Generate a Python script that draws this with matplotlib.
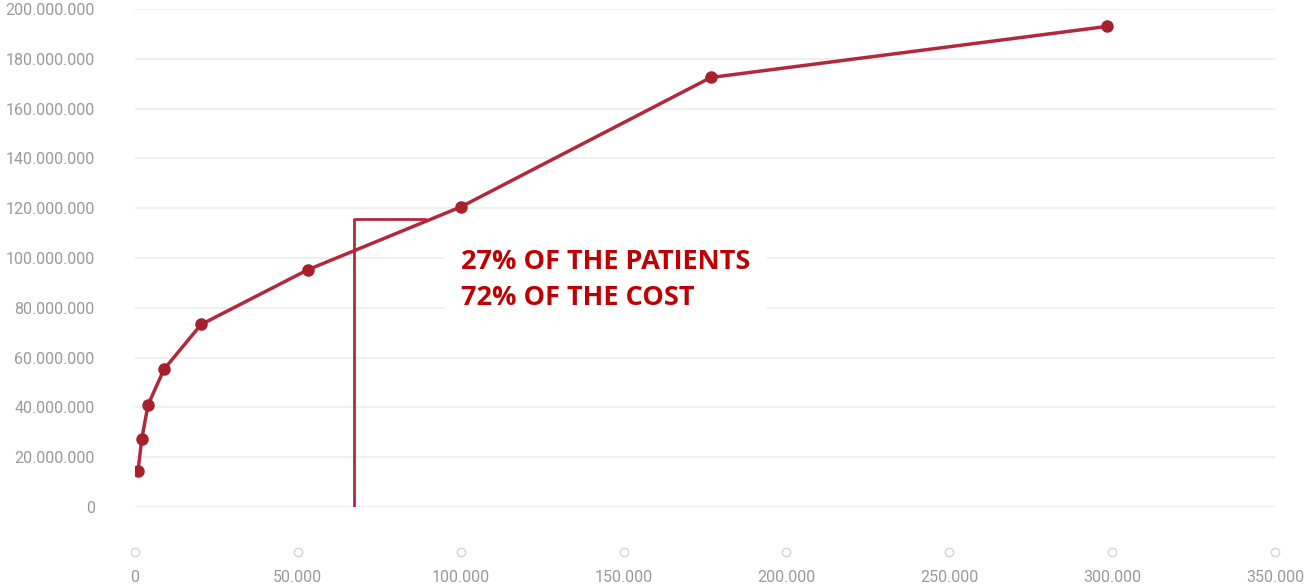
import numpy as np
import matplotlib.pyplot as plt
import matplotlib.transforms as mtransforms
from matplotlib.ticker import FuncFormatter

# cumulative patients vs cumulative cost
patients = [900, 2100, 4000, 8900, 20300, 53100, 100000, 176800, 298400]
cost = [14.3e6, 27.5e6, 41.0e6, 55.3e6, 73.3e6, 95.3e6, 120.5e6, 172.5e6, 193.0e6]

# marker for the 27% / 72% split
split_x = 67200
split_y = 115.5e6
split_end_x = 89000

x_ticks = [0, 50000, 100000, 150000, 200000, 250000, 300000, 350000]
y_ticks = np.arange(0, 200e6 + 1, 20e6)

fig = plt.figure(figsize=(13.07, 5.86), dpi=100)
ax = fig.add_axes([135 / 1307, 1 - 507 / 586, 1140 / 1307, 498 / 586])

def dots(v, pos):
    return "{:,.0f}".format(v).replace(",", ".")

ax.set_xlim(0, 350000)
ax.set_ylim(0, 200e6)
ax.set_xticks(x_ticks)
ax.set_yticks(y_ticks)
ax.xaxis.set_major_formatter(FuncFormatter(dots))
ax.yaxis.set_major_formatter(FuncFormatter(dots))
for lab in ax.get_xticklabels() + ax.get_yticklabels():
    lab.set_family(['Roboto', 'DejaVu Sans'])
ax.tick_params(axis='y', length=0, pad=29, labelsize=11.5, labelcolor='#9a9a9a')
ax.tick_params(axis='x', length=0, pad=45, labelsize=11.5, labelcolor='#9a9a9a')
for s in ax.spines.values():
    s.set_visible(False)
ax.grid(True, axis='y', color='#ececec', linewidth=1.2)
ax.set_axisbelow(True)

# little circles above the x labels
trans = mtransforms.blended_transform_factory(ax.transData, ax.transAxes)
ax.plot(x_ticks, [-0.09] * len(x_ticks), 'o', ms=6, mfc='white', mec='#d4d4d4',
        mew=1, transform=trans, clip_on=False)

# L-shaped marker
ax.plot([split_x, split_x, split_end_x], [0, split_y, split_y],
        color='#b02a3a', linewidth=2, zorder=3)

ax.plot(patients, cost, '-o', color='#b3283b', linewidth=2.5, ms=8,
        mfc='#a81f2e', mec='#a81f2e', zorder=4)

ax.text(0.286, 0.518, "27% OF THE PATIENTS\n72% OF THE COST", transform=ax.transAxes,
        fontsize=19.5, fontweight='bold', color='#c00000', family=['Open Sans', 'DejaVu Sans'],
        va='top', ha='left', linespacing=1.5, zorder=5,
        bbox=dict(boxstyle='square,pad=0.6', fc='white', ec='none'))

fig.savefig("out.png", dpi=100)
